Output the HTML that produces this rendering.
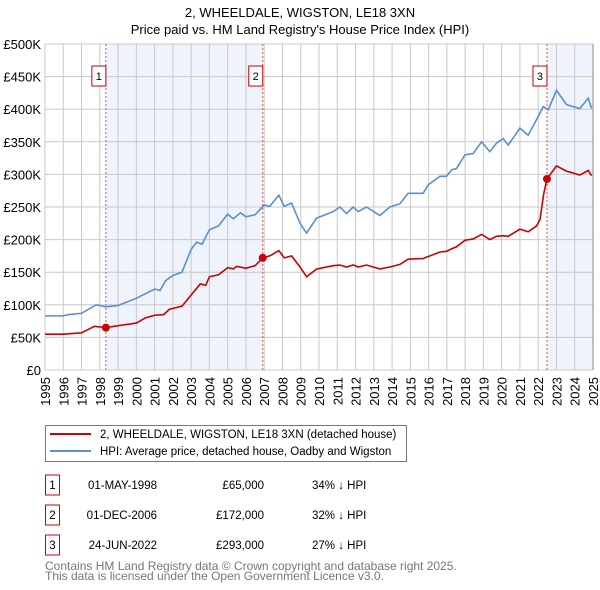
<!DOCTYPE html>
<html><head><meta charset="utf-8"><style>
body{margin:0;background:#fff}
svg{display:block;font-family:"Liberation Sans","DejaVu Sans",sans-serif}
</style></head><body>
<svg id="chart" width="600" height="590" viewBox="0 0 600 590" xmlns="http://www.w3.org/2000/svg">
<text x="300" y="17" text-anchor="middle" font-size="13">2, WHEELDALE, WIGSTON, LE18 3XN</text>
<text x="300" y="34" text-anchor="middle" font-size="13">Price paid vs. HM Land Registry's House Price Index (HPI)</text>
<g id="shades"></g><g id="grid"></g><g id="axes"></g><g id="series"></g><g id="markers"></g>
<g>
<rect x="45.5" y="425.5" width="361" height="36" fill="#fff" stroke="#777"/>
<line x1="50" y1="434" x2="91" y2="434" stroke="#cc0000" stroke-width="2"/>
<text x="100" y="438" font-size="11.5">2, WHEELDALE, WIGSTON, LE18 3XN (detached house)</text>
<line x1="50" y1="451" x2="91" y2="451" stroke="#5b8fd0" stroke-width="2"/>
<text x="100" y="455" font-size="11.5">HPI: Average price, detached house, Oadby and Wigston</text>
</g>
<g id="table" font-size="11.5"></g>
<text x="45" y="570" font-size="12" fill="#777">Contains HM Land Registry data © Crown copyright and database right 2025.</text>
<text x="45" y="580" font-size="12" fill="#777">This data is licensed under the Open Government Licence v3.0.</text>
</svg>
<script>
const hpiYears=[1995,1996,1996.3,1997,1997.8,1998.33,1999,2000,2000.5,2001,2001.3,2001.6,2002,2002.5,2003,2003.3,2003.6,2004,2004.5,2005,2005.3,2005.7,2006,2006.5,2007,2007.3,2007.8,2008.1,2008.5,2008.96,2009.32,2009.87,2010.78,2011.14,2011.51,2011.87,2012.15,2012.6,2013.33,2013.88,2014.43,2014.88,2015.7,2015.98,2016.62,2016.98,2017.26,2017.53,2017.99,2018.44,2018.9,2019.35,2019.72,2020.08,2020.36,2021.0,2021.45,2021.91,2022.28,2022.55,2023.0,2023.55,2024.28,2024.74,2024.92];
const hpiValues=[83,83,85,87,100,97,99,110,117,124,122,137,145,150,185,196,193,215,221,239,232,241,235,238,253,251,268,251,256,225,210,233,243,250,240,250,243,250,237,250,255,271,271,284,297,297,307,309,330,332,350,335,348,355,345,371,360,384,404,399,429,407,401,417,401];
const priceYears=[1995,1996,1997,1997.7,1998.33,1999,2000,2000.5,2001,2001.5,2001.8,2002.5,2003,2003.5,2003.8,2004,2004.5,2005,2005.3,2005.5,2006,2006.5,2006.92,2007.3,2007.8,2008.1,2008.5,2008.96,2009.32,2009.87,2010.78,2011.14,2011.51,2011.87,2012.15,2012.6,2013.33,2013.88,2014.43,2014.88,2015.7,2015.98,2016.62,2016.98,2017.26,2017.53,2017.99,2018.44,2018.9,2019.35,2019.72,2020.08,2020.36,2021.0,2021.45,2021.91,2022.1,2022.3,2022.48,2023.0,2023.55,2024.28,2024.74,2024.92];
const priceValues=[55,55,57,67,65,68,72,80,84,85,93,98,115,132,130,143,146,157,155,159,156,160,172,175,183,172,175,158,143,155,160,161,158,161,158,161,155,158,162,170,171,174,181,182,186,189,199,201,208,200,205,206,205,216,212,221,231,270,293,313,305,299,306,298];
const saleYears=[1998.33,2006.92,2022.48];
const saleValues=[65,172,293];
const saleLabels=["1","2","3"];
const saleDates=["01-MAY-1998","01-DEC-2006","24-JUN-2022"];
const salePrices=["£65,000","£172,000","£293,000"];
const saleDiffs=["34% ↓ HPI","32% ↓ HPI","27% ↓ HPI"];
const yTicks=[0,50,100,150,200,250,300,350,400,450,500];
const yTickLabels=["£0","£50K","£100K","£150K","£200K","£250K","£300K","£350K","£400K","£450K","£500K"];
const xTicks=[1995,1996,1997,1998,1999,2000,2001,2002,2003,2004,2005,2006,2007,2008,2009,2010,2011,2012,2013,2014,2015,2016,2017,2018,2019,2020,2021,2022,2023,2024,2025];

const NS="http://www.w3.org/2000/svg";
const X0=45,X1=593,Y0=370,Y1=44;
const xs=y=>X0+(y-1995)*(X1-X0)/30;
const ys=v=>Y0-v*(Y0-Y1)/500;
function mk(tag,attrs,parent,text){const e=document.createElementNS(NS,tag);for(const k in attrs)e.setAttribute(k,attrs[k]);if(text!==undefined)e.textContent=text;document.getElementById(parent).appendChild(e);return e;}

const sh1=mk('rect',{x:xs(saleYears[0]),y:Y1,width:xs(saleYears[1])-xs(saleYears[0]),height:Y0-Y1,fill:'#eef3fc'},'shades');


const sh2=mk('rect',{x:xs(saleYears[2]),y:Y1,width:X1-xs(saleYears[2]),height:Y0-Y1,fill:'#eef3fc'},'shades');



yTicks.forEach((t,i)=>{
  const l=mk('line',{x1:X0,x2:X1,y1:ys(t),y2:ys(t),stroke:'#c8c8c8','stroke-width':1},'grid');
  
  
  const tx=mk('text',{x:X0-4,y:ys(t)+5,'text-anchor':'end','font-size':13},'axes',yTickLabels[i]);
  
  
});
xTicks.forEach(t=>{
  const l=mk('line',{x1:xs(t),x2:xs(t),y1:Y1,y2:Y0,stroke:'#c8c8c8','stroke-width':1},'grid');
  
  
  const tx=mk('text',{x:0,y:0,'text-anchor':'end','font-size':13,transform:`translate(${xs(t)+5},${Y0+7}) rotate(-90)`},'axes',String(t));
  
  
});
const rb=mk('line',{x1:X1,x2:X1,y1:Y1,y2:Y0,stroke:'#888','stroke-width':1},'axes');



saleYears.forEach((y,i)=>{
  const l=mk('line',{x1:xs(y),x2:xs(y),y1:Y1,y2:Y0,stroke:'#e05050','stroke-width':1,'stroke-dasharray':'2,2'},'markers');
  
  
  const b=mk('rect',{x:xs(y)-14,y:66,width:14,height:20,fill:'#fff',stroke:'#cc0000'},'markers');
  
  
  const t=mk('text',{x:xs(y)-7,y:80,'text-anchor':'middle','font-size':11},'markers',saleLabels[i]);
  
  
});

const hp=mk('polyline',{points:hpiYears.map((y,i)=>xs(y)+','+ys(hpiValues[i])).join(' '),fill:'none',stroke:'#5b8fd0','stroke-width':1.6},'series');


const pp=mk('polyline',{points:priceYears.map((y,i)=>xs(y)+','+ys(priceValues[i])).join(' '),fill:'none',stroke:'#cc0000','stroke-width':1.6},'series');


saleYears.forEach((y,i)=>{
  const c=mk('circle',{cx:xs(y),cy:ys(saleValues[i]),r:4,fill:'#cc0000'},'markers');
  
  
});

saleLabels.forEach((s,i)=>{
  const cy=485+i*30;
  const b=mk('rect',{x:45.5,y:cy-10,width:14,height:20,fill:'#fff',stroke:'#cc0000'},'table');
  
  
  const t0=mk('text',{x:52.5,y:cy+4,'text-anchor':'middle'},'table',s);
  
  
  const t1=mk('text',{x:157,y:cy+4,'text-anchor':'end'},'table',saleDates[i]);
  
  
  const t2=mk('text',{x:264,y:cy+4,'text-anchor':'end'},'table',salePrices[i]);
  
  
  const t3=mk('text',{x:312,y:cy+4},'table',saleDiffs[i]);
  
  
});
</script>
</body></html>
